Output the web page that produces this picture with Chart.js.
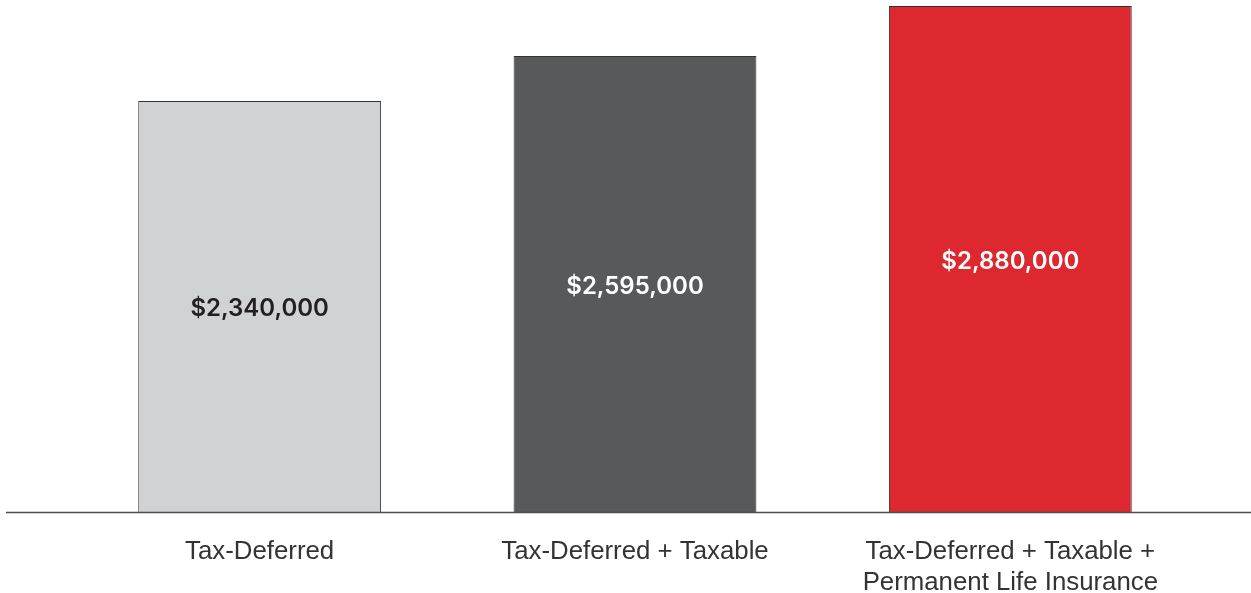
<!DOCTYPE html>
<html>
<head>
<meta charset="utf-8">
<script src="https://cdn.jsdelivr.net/npm/chart.js@4/dist/chart.umd.min.js"></script>
<style>
  html, body { margin: 0; padding: 0; background: #ffffff; overflow: hidden; }
  #wrap { position: relative; width: 1251px; height: 593px; }
</style>
</head>
<body>
<div id="wrap"><canvas id="c" width="1251" height="593"></canvas></div>
<script>
const categories = [
  ["Tax-Deferred"],
  ["Tax-Deferred + Taxable"],
  ["Tax-Deferred + Taxable +", "Permanent Life Insurance"]
];
const values = [2340000, 2595000, 2880000];
const valueLabels = ["$2,340,000", "$2,595,000", "$2,880,000"];
const barColors = ["#d1d2d4", "#58595b", "#dc282e"];
const labelColors = ["#231f20", "#ffffff", "#ffffff"];

const baselinePlugin = {
  id: 'baseline',
  afterDatasetsDraw(chart) {
    const ctx = chart.ctx;
    const y = chart.scales.y.getPixelForValue(0);
    ctx.save();
    ctx.strokeStyle = '#4d4d4f';
    ctx.lineWidth = 1.5;
    ctx.beginPath();
    ctx.moveTo(6, y + 0.5);
    ctx.lineTo(chart.width, y + 0.5);
    ctx.stroke();
    ctx.restore();
  }
};

const valueLabelPlugin = {
  id: 'valueLabels',
  afterDatasetsDraw(chart) {
    const ctx = chart.ctx;
    const meta = chart.getDatasetMeta(0);
    ctx.save();
    ctx.font = '600 24px Inter, "Liberation Sans", sans-serif';
    ctx.textAlign = 'center';
    ctx.textBaseline = 'middle';
    meta.data.forEach((bar, i) => {
      const p = bar.getProps(['x', 'y', 'base'], true);
      ctx.fillStyle = labelColors[i];
      ctx.fillText(valueLabels[i], p.x, (p.y + p.base) / 2 + 2.5);
    });
    ctx.restore();
  }
};

new Chart(document.getElementById('c'), {
  type: 'bar',
  data: {
    labels: categories,
    datasets: [{
      data: values,
      backgroundColor: barColors,
      borderColor: '#333333',
      borderWidth: 1,
      categoryPercentage: 1,
      barPercentage: 0.647
    }]
  },
  options: {
    responsive: false,
    animation: false,
    devicePixelRatio: 1,
    layout: { padding: { left: 72, right: 53, top: 6, bottom: -21 } },
    plugins: { legend: { display: false }, tooltip: { enabled: false } },
    scales: {
      x: {
        grid: { display: false },
        border: { display: false },
        ticks: {
          color: '#333333',
          font: { family: '"Liberation Sans", Arial, sans-serif', size: 25.8, lineHeight: 1.2 },
          padding: 16,
          maxRotation: 0,
          autoSkip: false
        }
      },
      y: {
        display: false,
        min: 0,
        max: 2880000
      }
    }
  },
  plugins: [baselinePlugin, valueLabelPlugin]
});
</script>
</body>
</html>
